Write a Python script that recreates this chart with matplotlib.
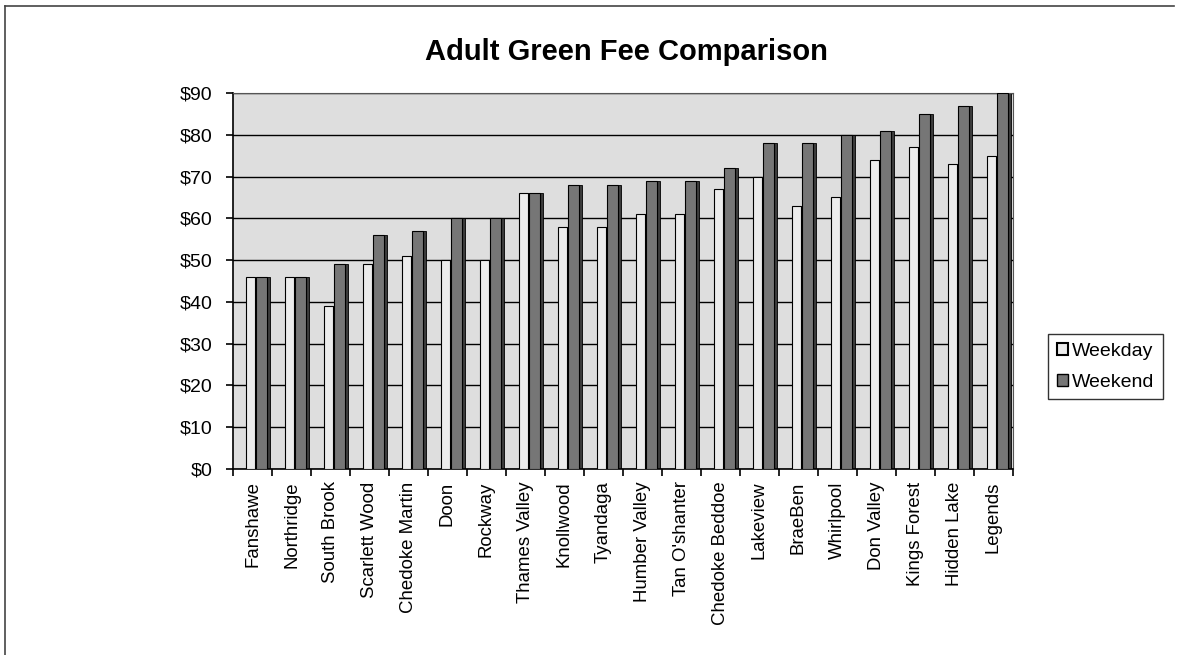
import matplotlib
matplotlib.use("Agg")
import matplotlib.pyplot as plt
import matplotlib.patches as mpatches
import matplotlib.lines as mlines
import numpy as np

plt.rcParams['font.family'] = ['Liberation Sans', 'DejaVu Sans']

courses = ["Fanshawe", "Northridge", "South Brook", "Scarlett Wood", "Chedoke Martin",
           "Doon", "Rockway", "Thames Valley", "Knollwood", "Tyandaga", "Humber Valley",
           "Tan O'shanter", "Chedoke Beddoe", "Lakeview", "BraeBen", "Whirlpool",
           "Don Valley", "Kings Forest", "Hidden Lake", "Legends"]
weekday = [46, 46, 39, 49, 51, 50, 50, 66, 58, 58, 61, 61, 67, 70, 63, 65, 74, 77, 73, 75]
weekend = [46, 46, 49, 56, 57, 60, 60, 66, 68, 68, 69, 69, 72, 78, 78, 80, 81, 85, 87, 90]
yticks = [0, 10, 20, 30, 40, 50, 60, 70, 80, 90]

fig = plt.figure(figsize=(11.78, 6.55), dpi=100)
# outer frame (left and top)
fig.add_artist(mlines.Line2D([0.0045, 0.0045], [0.0, 0.991], transform=fig.transFigure,
                             color='#444444', linewidth=1.2))
fig.add_artist(mlines.Line2D([0.0045, 0.997], [0.991, 0.991], transform=fig.transFigure,
                             color='#444444', linewidth=1.2))

ax = fig.add_axes([0.1978, 0.284, 0.6621, 0.574])
ax.set_facecolor('#dedede')
x = np.arange(len(courses))

wd_w, we_w, depth = 0.24, 0.30, 0.06
wd_c = x - 0.05
we_c = x + 0.23
# side faces for a 3D-like look
ax.bar(wd_c + depth, weekday, wd_w, color='#a8a8a8', edgecolor='black', linewidth=0.6, zorder=2)
ax.bar(we_c + depth, weekend, we_w, color='#3c3c3c', edgecolor='black', linewidth=0.6, zorder=2)
ax.bar(wd_c, weekday, wd_w, color='#ececec', edgecolor='black', linewidth=0.8, zorder=3)
ax.bar(we_c, weekend, we_w, color='#767676', edgecolor='black', linewidth=0.8, zorder=3)

ax.set_ylim(0, 90)
ax.set_xlim(-0.5, len(courses) - 0.5)
ax.set_yticks(yticks)
ax.set_yticklabels([f"${v}" for v in yticks], fontsize=14)
ax.yaxis.grid(True, color='black', linewidth=1.0, zorder=1)
ax.set_axisbelow(True)
ax.set_xticks(x)
ax.set_xticklabels(courses, rotation=90, fontsize=13.4)
ax.tick_params(axis='x', length=0, pad=9)
ax.set_xticks(np.arange(-0.5, len(courses), 1.0), minor=True)
ax.tick_params(axis='x', which='minor', length=5, color='black', width=1.2)
ax.tick_params(axis='y', length=5, width=1.2, pad=10)
for s in ['top', 'right']:
    ax.spines[s].set_color('#555555')
for s in ['left', 'bottom']:
    ax.spines[s].set_color('black')
    ax.spines[s].set_linewidth(1.2)

fig.text(0.532, 0.921, "Adult Green Fee Comparison", ha='center', va='center',
         fontsize=21, fontweight='bold')

handles = [mpatches.Patch(facecolor='#ececec', edgecolor='black', linewidth=1.5, label='Weekday'),
           mpatches.Patch(facecolor='#767676', edgecolor='black', linewidth=1.0, label='Weekend')]
leg = fig.legend(handles=handles, loc='center left', bbox_to_anchor=(0.890, 0.44),
                 fontsize=14, frameon=True, fancybox=False, edgecolor='black',
                 handlelength=0.55, handleheight=0.55, handletextpad=0.2, borderpad=0.45,
                 labelspacing=0.7, borderaxespad=0.0)
leg.get_frame().set_linewidth(1.0)

fig.savefig("out.png", dpi=100)
